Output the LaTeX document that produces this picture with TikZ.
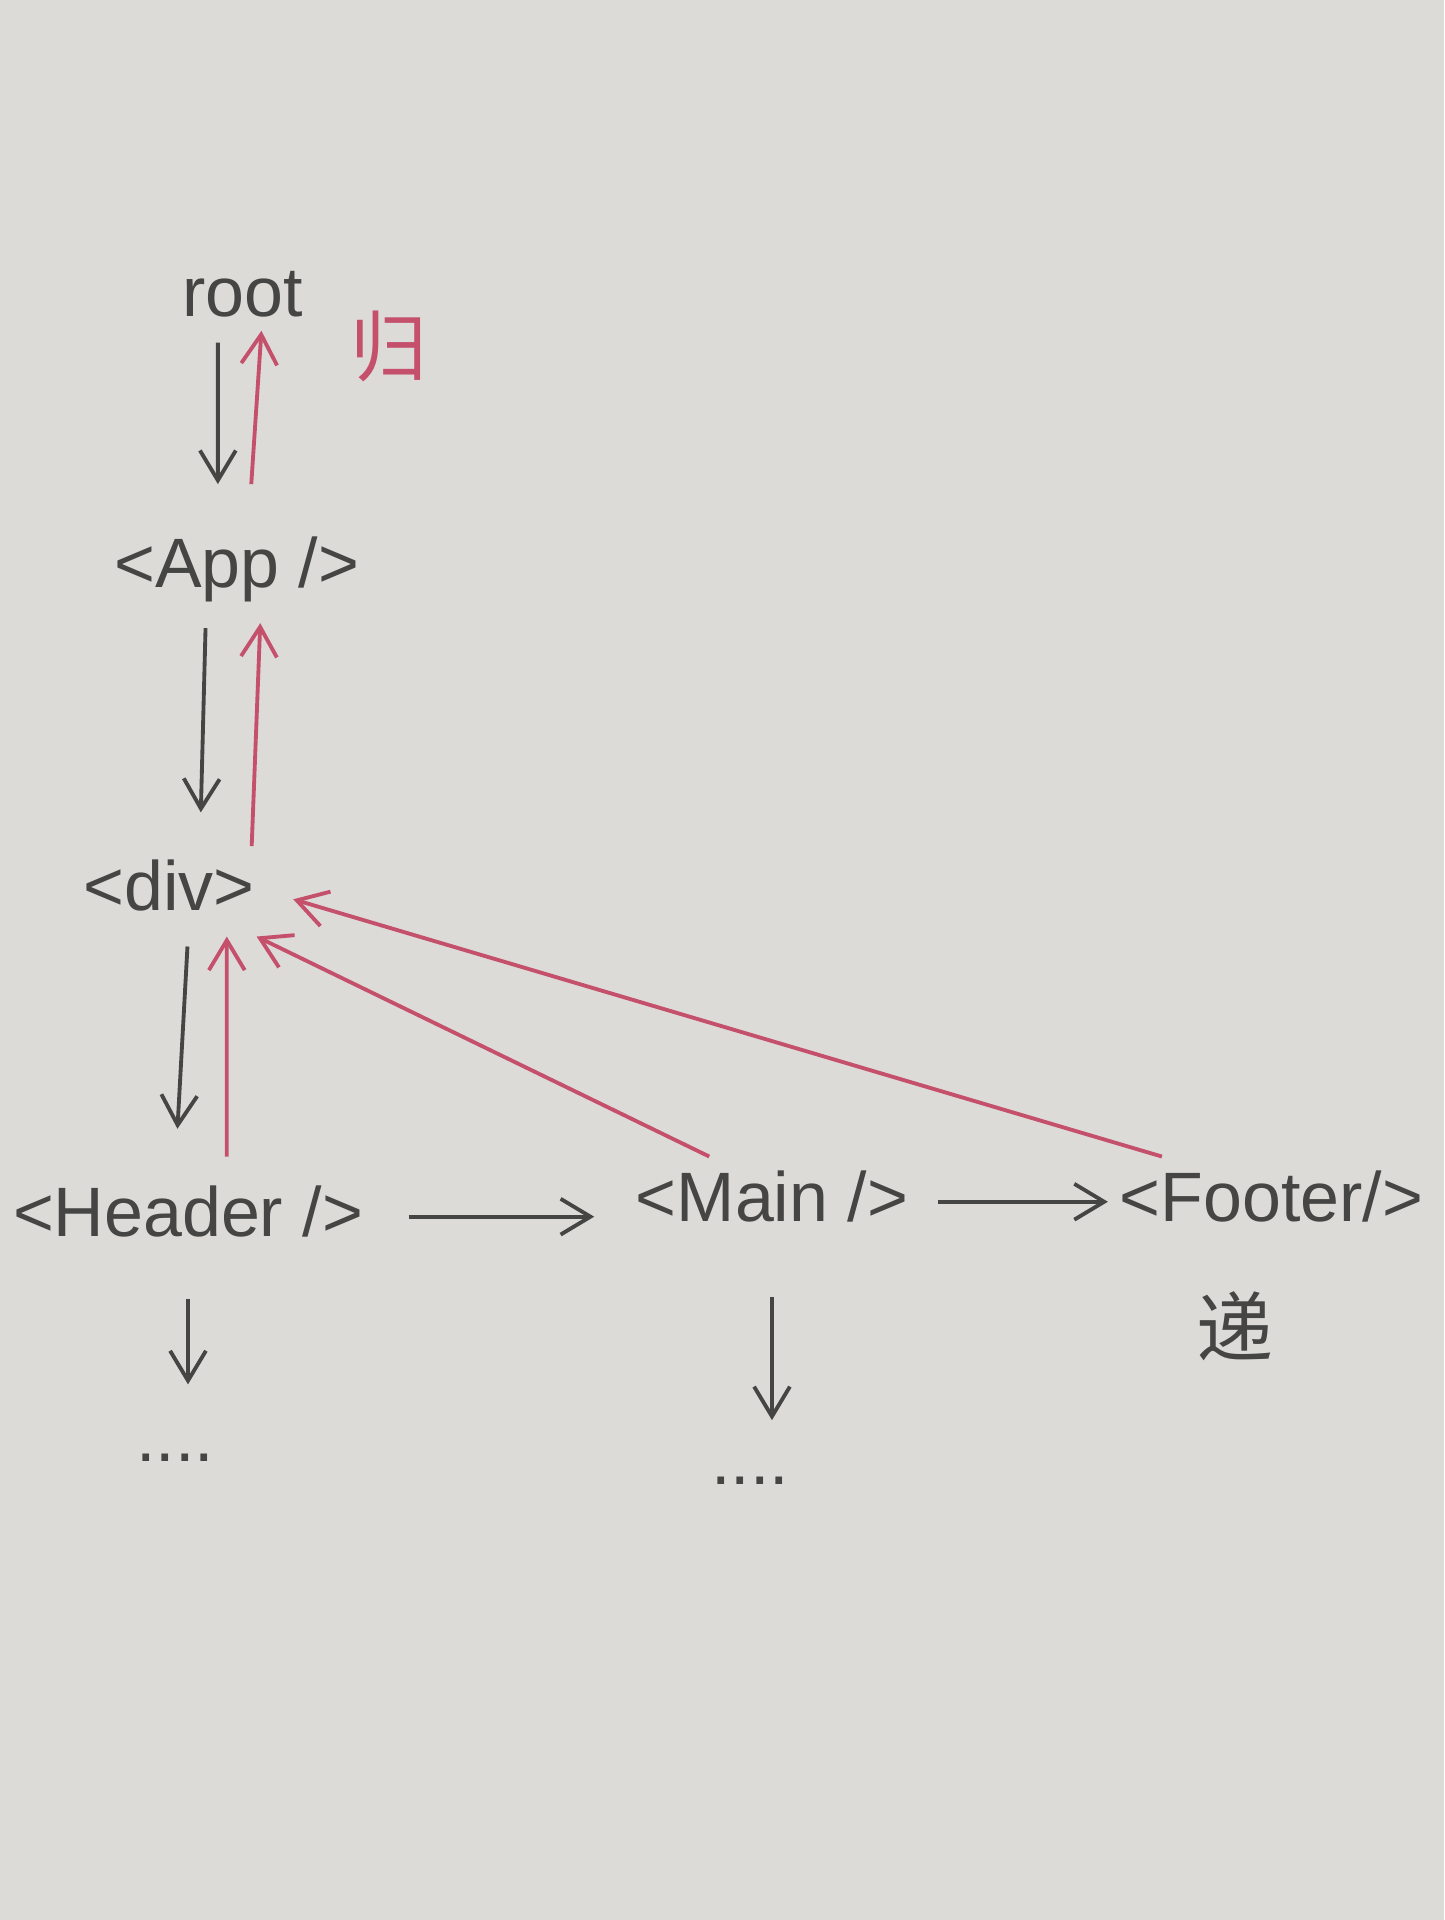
\documentclass[tikz,border=0pt]{standalone}
\usepackage{fontspec}
\setsansfont{Liberation Sans}
\newfontfamily\cjk{Noto Sans CJK SC}
\usetikzlibrary{arrows.meta}
\definecolor{cpaper}{HTML}{DDDBD8}
\definecolor{cink}{HTML}{454543}
\definecolor{cred}{HTML}{C4506C}
\tikzset{
  every picture/.style={font=\sffamily, line width=1.1pt},
  tag/.style={text=cink, font=\sffamily\fontsize{20}{24}\selectfont, text height=5.3mm, text depth=1.4mm, inner sep=1mm},
  hanzi/.style={font=\cjk\fontsize{22}{26}\selectfont, inner sep=0pt},
  down/.style={-{Straight Barb[length=3mm, width=3.6mm]}, draw=cink},
  up/.style={-{Straight Barb[length=3mm, width=3.6mm]}, draw=cred},
}

\begin{document}
\begin{tikzpicture}
  \fill[cpaper] (-0.05,0.05) rectangle (14.47,-19.25);
  \useasboundingbox (0,0) rectangle (14.42,-19.20);
  \node[tag] (root) at (2.39,-2.94) {root};
  \node[tag] (app) at (2.33,-5.66) {<App />};
  \node[tag] (div) at (1.65,-8.91) {<div>};
  \node[tag] (header) at (1.84,-12.18) {<Header />};
  \node[tag] (main) at (7.71,-12.03) {<Main />};
  \node[tag] (footer) at (12.73,-12.03) {<Footer/>};
  \node[tag] (dots1) at (1.71,-14.45) {....};
  \node[tag] (dots2) at (7.49,-14.68) {....};
  \node[hanzi, text=cred] (gui) at (3.86,-3.43) {归};
  \node[hanzi, text=cink] (di) at (12.36,-13.28) {递};
  % down the tree (black), back up (red)
  \draw[down, shorten >=3.9mm] ([xshift=-2.5mm]root.south) -- ([xshift=-1.9mm]app.north);
  \draw[up, shorten <=3.9mm, shorten >=-1.2mm] ([xshift=1.2mm]app.north) -- ([xshift=1.8mm]root.south);
  \draw[down, shorten <=1.5mm, shorten >=3.4mm] ([xshift=-3.1mm]app.south) -- ([xshift=3.1mm]div.north);
  \draw[up, shorten >=1mm] ([xshift=8.3mm]div.north) -- ([xshift=2.4mm]app.south);
  \draw[down, shorten <=1mm, shorten >=4.3mm] ([xshift=1.9mm]div.south) -- ([xshift=-1.3mm]header.north);
  \draw[up, shorten <=1.5mm] ([xshift=3.9mm]header.north) -- ([xshift=5.8mm]div.south);
  \draw[up] ([xshift=-6.3mm]main.north) -- ([xshift=-1mm]div.south east);
  \draw[up, shorten >=2.8mm] ([xshift=-11mm]footer.north) -- (div.east);
  \draw[down, shorten <=3.4mm, shorten >=3mm] (header.east) -- (main.west |- header.east);
  \draw[down, shorten <=1.8mm] (main.east) -- (footer.west);
  \draw[down, shorten <=3.7mm, shorten >=1.3mm] (header.south) -- (header.south |- dots1.north);
  \draw[down, shorten <=5mm] (main.south) -- (main.south |- dots2.north);
\end{tikzpicture}
\end{document}
